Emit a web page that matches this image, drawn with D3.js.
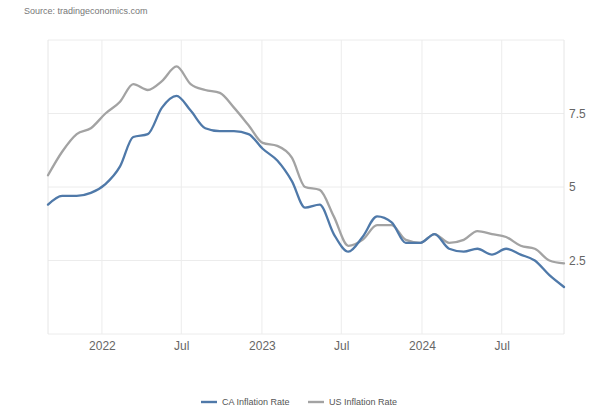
<!DOCTYPE html>
<html>
<head>
<meta charset="utf-8">
<script src="https://cdn.jsdelivr.net/npm/d3@7"></script>
<style>
  html, body { margin: 0; padding: 0; background: #fff; }
  svg { display: block; font-family: "Liberation Sans", Arial, sans-serif; }
</style>
</head>
<body>
<svg id="chart" width="600" height="410"></svg>
<script>
// ---- data ----
const months = ["2021-09","2021-10","2021-11","2021-12",
  "2022-01","2022-02","2022-03","2022-04","2022-05","2022-06","2022-07","2022-08","2022-09","2022-10","2022-11","2022-12",
  "2023-01","2023-02","2023-03","2023-04","2023-05","2023-06","2023-07","2023-08","2023-09","2023-10","2023-11","2023-12",
  "2024-01","2024-02","2024-03","2024-04","2024-05","2024-06","2024-07","2024-08","2024-09"];
const caInflation = [4.4,4.7,4.7,4.8,
  5.1,5.7,6.7,6.8,7.7,8.1,7.6,7.0,6.9,6.9,6.8,6.3,
  5.9,5.2,4.3,4.4,3.4,2.8,3.3,4.0,3.8,3.1,3.1,3.4,
  2.9,2.8,2.9,2.7,2.9,2.7,2.5,2.0,1.6];
const usInflation = [5.4,6.2,6.8,7.0,
  7.5,7.9,8.5,8.3,8.6,9.1,8.5,8.3,8.2,7.7,7.1,6.5,
  6.4,6.0,5.0,4.9,4.0,3.0,3.2,3.7,3.7,3.2,3.1,3.4,
  3.1,3.2,3.5,3.4,3.3,3.0,2.9,2.5,2.4];
const yTicks = [2.5, 5, 7.5];
const yGrid = [0, 2.5, 5, 7.5, 10];
const xTickLabels = ["2022","Jul","2023","Jul","2024","Jul"];
const xTickDates = ["2022-01-01","2022-07-01","2023-01-01","2023-07-01","2024-01-01","2024-07-01"];
const seriesNames = ["CA Inflation Rate", "US Inflation Rate"];
const seriesColors = ["#4f79a9", "#a3a3a3"];

// ---- layout ----
const svg = d3.select("#chart");
const pLeft = 48, pRight = 564, pTop = 40, pBottom = 334;
const parseM = d3.timeParse("%Y-%m");
const parseD = d3.timeParse("%Y-%m-%d");
const dates = months.map(parseM);

// data scale (monthly points)
const x = d3.scaleTime().domain(d3.extent(dates)).range([pLeft, pRight]);
// axis scale as drawn by the source (calendar ticks)
const xAxisScale = d3.scaleTime()
  .domain([parseD("2021-08-31"), parseD("2024-11-20")])
  .range([pLeft, pRight]);
const y = d3.scaleLinear().domain([0, 10]).range([pBottom, pTop]);

// gridlines horizontal
svg.append("g").selectAll("line").data(yGrid).join("line")
  .attr("x1", pLeft).attr("x2", pRight)
  .attr("y1", d => y(d)).attr("y2", d => y(d))
  .attr("stroke", "#ececec").attr("stroke-width", 1);

// vertical gridlines (incl. edges)
const tickDates = xTickDates.map(parseD);
svg.append("g").selectAll("line").data(tickDates).join("line")
  .attr("x1", d => xAxisScale(d)).attr("x2", d => xAxisScale(d))
  .attr("y1", pTop).attr("y2", pBottom)
  .attr("stroke", "#ececec").attr("stroke-width", 1);
svg.append("g").selectAll("line").data([pLeft, pRight]).join("line")
  .attr("x1", d => d).attr("x2", d => d)
  .attr("y1", pTop).attr("y2", pBottom)
  .attr("stroke", "#e6e6e6").attr("stroke-width", 1);

// x axis labels
const xAxis = d3.axisBottom(xAxisScale)
  .tickValues(tickDates)
  .tickFormat((d, i) => xTickLabels[i])
  .tickSize(0).tickPadding(7);
const gx = svg.append("g").attr("transform", `translate(0,${pBottom})`).call(xAxis);
gx.select(".domain").remove();
gx.selectAll("text").attr("fill", "#666").attr("font-size", 12)
  .attr("font-family", "'Liberation Sans', Arial, sans-serif");

// y axis labels (right)
const yAxis = d3.axisRight(y).tickValues(yTicks).tickFormat(d => d)
  .tickSize(0).tickPadding(5);
const gy = svg.append("g").attr("transform", `translate(${pRight},0)`).call(yAxis);
gy.select(".domain").remove();
gy.selectAll("text").attr("fill", "#666").attr("font-size", 12)
  .attr("font-family", "'Liberation Sans', Arial, sans-serif");

// lines
const line = d3.line().x((d, i) => x(dates[i])).y(d => y(d)).curve(d3.curveMonotoneX);
[usInflation, caInflation].forEach((s, k) => {
  const color = k === 0 ? seriesColors[1] : seriesColors[0];
  svg.append("path").datum(s).attr("d", line)
    .attr("fill", "none").attr("stroke", color)
    .attr("stroke-width", 2.3).attr("stroke-linejoin", "round").attr("stroke-linecap", "round");
});

// source
svg.append("text").attr("x", 24).attr("y", 13.5)
  .attr("font-size", 9).attr("fill", "#777")
  .text("Source: tradingeconomics.com");

// legend
const legendX = [201, 308];
const lg = svg.append("g");
seriesNames.forEach((n, i) => {
  lg.append("line").attr("x1", legendX[i]).attr("x2", legendX[i] + 16)
    .attr("y1", 402).attr("y2", 402)
    .attr("stroke", seriesColors[i]).attr("stroke-width", 2.4);
  lg.append("text").attr("x", legendX[i] + 21).attr("y", 405)
    .attr("font-size", 9).attr("fill", "#555").text(n);
});
</script>
</body>
</html>
